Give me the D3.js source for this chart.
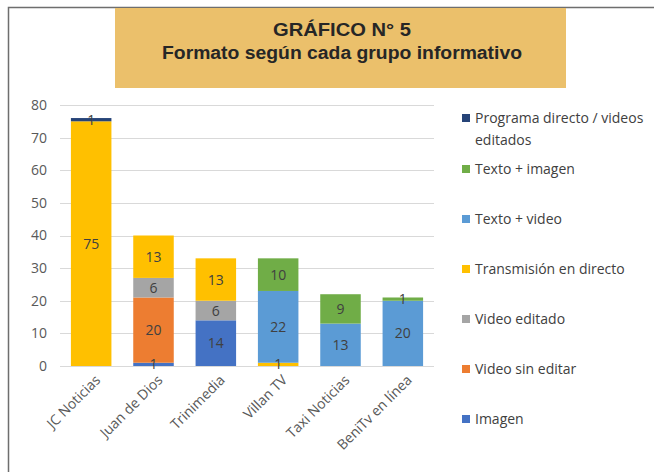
<!DOCTYPE html>
<html><head><meta charset="utf-8">
<script src="https://cdn.jsdelivr.net/npm/d3@7"></script>
<style>body{margin:0;background:#fff}svg{display:block}</style>
</head><body>
<svg id="c" width="654" height="472"></svg>
<script>
const categories = ["JC Noticias","Juan de Dios","Trinimedia","Villan TV","Taxi Noticias","BeniTv en línea"];
const seriesNames = ["Imagen","Video sin editar","Video editado","Transmisión en directo","Texto + video","Texto + imagen","Programa directo / videos editados"];
const imagen = [0,1,14,0,0,0];
const videoSinEditar = [0,20,0,0,0,0];
const videoEditado = [0,6,6,0,0,0];
const transmision = [75,13,13,1,0,0];
const textoVideo = [0,0,0,22,13,20];
const textoImagen = [0,0,0,10,9,1];
const programa = [1,0,0,0,0,0];
const colors = ["#4472C4","#ED7D31","#A5A5A5","#FFC000","#5B9BD5","#70AD47","#264478"];
const yTicks = [0,10,20,30,40,50,60,70,80];
const legendOrder = [6,5,4,3,2,1,0];

const seriesValues = [imagen, videoSinEditar, videoEditado, transmision, textoVideo, textoImagen, programa];
const keys = seriesNames;
const rows = categories.map((c,i)=>{const r={cat:c}; keys.forEach((k,j)=>r[k]=seriesValues[j][i]); return r;});
const stack = d3.stack().keys(keys)(rows);

const svg = d3.select("#c");
// frame
svg.append("path").attr("d","M8.5,472 L8.5,7.5 L654,7.5").attr("fill","none").attr("stroke","#6e6e6e").attr("stroke-width",1.5);
// title box
svg.append("rect").attr("x",115).attr("y",8).attr("width",451).attr("height",80).attr("fill","#EBC06B");
const tf = "'Liberation Sans', Arial, sans-serif";
svg.append("text").attr("x",342).attr("y",36).attr("text-anchor","middle").attr("font-family",tf).attr("font-weight","bold").attr("font-size",18).attr("fill","#262626")
  .attr("textLength",138).attr("lengthAdjust","spacingAndGlyphs").text("GRÁFICO N° 5");
svg.append("text").attr("x",342).attr("y",59).attr("text-anchor","middle").attr("font-family",tf).attr("font-weight","bold").attr("font-size",18).attr("fill","#262626")
  .attr("textLength",360).attr("lengthAdjust","spacingAndGlyphs").text("Formato según cada grupo informativo");

const x = d3.scaleBand().domain(categories).range([60,434]).paddingInner(0.35).paddingOuter(0.175);
const y = d3.scaleLinear().domain([0,80]).range([366,105]);
const ff = "'Open Sans', 'Liberation Sans', sans-serif";

// gridlines
svg.append("g").selectAll("line").data(yTicks).join("line")
  .attr("x1",60).attr("x2",434).attr("y1",d=>Math.round(y(d))+0.5).attr("y2",d=>Math.round(y(d))+0.5)
  .attr("stroke","#d9d9d9").attr("stroke-width",1);

const yAxis = d3.axisLeft(y).tickValues(yTicks).tickSize(0).tickPadding(0);
const ga = svg.append("g").attr("transform","translate(47,0)").call(yAxis);
ga.select(".domain").remove();
ga.selectAll("text").attr("font-family",ff).attr("font-size",14).attr("fill","#595959");

// bars
const g = svg.append("g");
stack.forEach((s,si)=>{
  g.selectAll(null).data(s.filter(d=>d[1]-d[0]>0)).join("rect")
    .attr("x",d=>x(d.data.cat)).attr("width",x.bandwidth())
    .attr("y",d=>y(d[1])).attr("height",d=>y(d[0])-y(d[1]))
    .attr("fill",colors[si]);
});
stack.forEach((s,si)=>{
  g.selectAll(null).data(s.filter(d=>d[1]-d[0]>0)).join("text")
    .attr("x",d=>x(d.data.cat)+x.bandwidth()/2).attr("y",d=>(y(d[0])+y(d[1]))/2)
    .attr("dy","0.36em").attr("text-anchor","middle")
    .attr("font-family",ff).attr("font-size",14).attr("fill","#404040")
    .text(d=>d[1]-d[0]);
});

// x axis labels
const xAxis = d3.axisBottom(x).tickSize(0).tickPadding(0);
const gx = svg.append("g").attr("transform","translate(0,374)").call(xAxis);
gx.select(".domain").remove();
gx.selectAll("text").attr("font-family",ff).attr("font-size",14).attr("fill","#595959")
  .attr("text-anchor","end").attr("dy","0.7em").attr("transform","translate(3,0) rotate(-45)");

// legend
const lg = svg.append("g");
const ly = [118,169,219,269,319,369,419];
legendOrder.forEach((si,i)=>{
  lg.append("rect").attr("x",462).attr("y",ly[i]-4).attr("width",8).attr("height",8).attr("fill",colors[si]);
  const t = lg.append("text").attr("x",475).attr("y",ly[i]).attr("dy","0.35em")
    .attr("font-family",ff).attr("font-size",14).attr("fill","#404040");
  if(si===6){
    t.append("tspan").attr("x",475).text("Programa directo / videos");
    t.append("tspan").attr("x",475).attr("dy","1.55em").text("editados");
  } else t.text(seriesNames[si]);
});
</script>
</body></html>
